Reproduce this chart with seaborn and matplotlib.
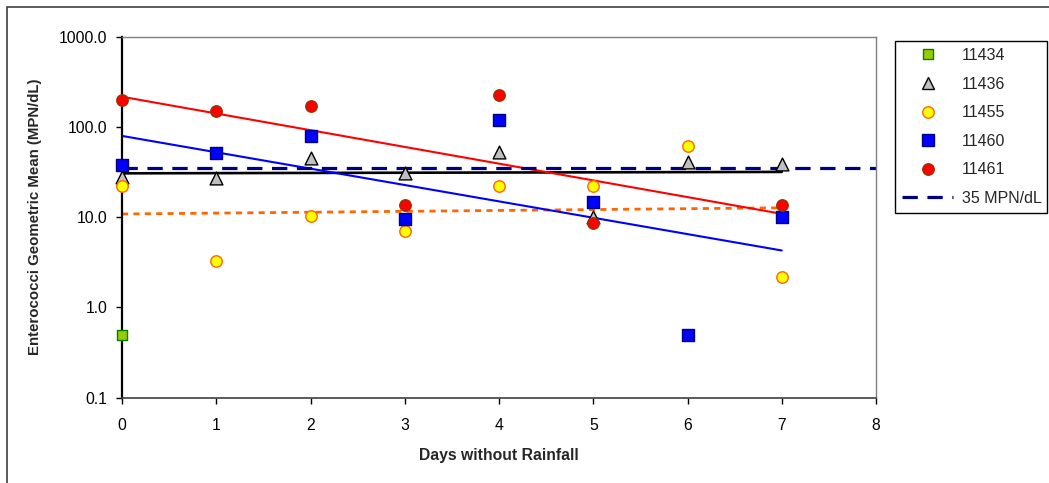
import numpy as np
import pandas as pd
import matplotlib
matplotlib.use("Agg")
import matplotlib.pyplot as plt
from matplotlib.lines import Line2D
from matplotlib.patches import Rectangle
from matplotlib.ticker import FixedLocator, FixedFormatter
import seaborn as sns

sns.set_style("white")
plt.rcParams['font.family'] = ['Liberation Sans', 'DejaVu Sans']

# ---- data ----
days = [0, 1, 2, 3, 4, 5, 6, 7]
s11434_x = [0]
s11434_y = [0.5]
s11436_x = [0, 1, 2, 3, 4, 5, 6, 7]
s11436_y = [28, 27, 45, 31, 53, 10, 41, 39]
s11455_x = [0, 1, 2, 3, 4, 5, 6, 7]
s11455_y = [22.4, 3.26, 10.3, 7.1, 22.4, 22.4, 62, 2.18]
s11460_x = [0, 1, 2, 3, 4, 5, 6, 7]
s11460_y = [38, 52, 80, 9.5, 120, 14.9, 0.5, 10]
s11461_x = [0, 1, 2, 3, 4, 5, 7]
s11461_y = [198, 149, 171, 13.7, 228, 8.6, 13.6]
threshold = 35
threshold_label = "35 MPN/dL"
y_ticks = [0.1, 1, 10, 100, 1000]
y_tick_labels = ["0.1", "1.0", "10.0", "100.0", "1000.0"]
x_ticks = [0, 1, 2, 3, 4, 5, 6, 7, 8]

series = [
    ("11434", s11434_x, s11434_y, dict(marker="s", color="#99CC00", ec="#008000", s=60)),
    ("11436", s11436_x, s11436_y, dict(marker="^", color="#C0C0C0", ec="#000000", s=85)),
    ("11455", s11455_x, s11455_y, dict(marker="o", color="#FFFF00", ec="#FF6600", s=68)),
    ("11460", s11460_x, s11460_y, dict(marker="s", color="#0000FF", ec="#000080", s=66)),
    ("11461", s11461_x, s11461_y, dict(marker="o", color="#FF0000", ec="#993300", s=68)),
]
trends = {
    "11436": dict(color="#000000", lw=1.9, ls="-"),
    "11455": dict(color="#FF6600", lw=2.0, ls=(0, (2.2, 1.9))),
    "11460": dict(color="#0000FF", lw=1.5, ls="-"),
    "11461": dict(color="#FF0000", lw=1.5, ls="-"),
}

W, H = 1049, 483
fig = plt.figure(figsize=(W / 100, H / 100), dpi=100)
ax = fig.add_axes([122 / W, 1 - 397.7 / H, (876 - 122) / W, (397.7 - 36.7) / H])

# trend lines (exponential fits, as in the spreadsheet)
for name, xs, ys, st in series:
    if name in trends:
        k, b = np.polyfit(np.array(xs, float), np.log10(ys), 1)
        xf = np.linspace(min(xs), max(xs), 50)
        df = pd.DataFrame({"x": xf, "y": 10 ** (k * xf + b)})
        t = trends[name]
        sns.lineplot(data=df, x="x", y="y", ax=ax, color=t["color"], lw=t["lw"],
                     linestyle=t["ls"], zorder=2, legend=False)

# threshold line
ax.axhline(threshold, color="#000080", lw=2.3, ls=(0, (4.8, 3.0)), zorder=2.5)

# markers
for name, xs, ys, st in series:
    df = pd.DataFrame({"x": xs, "y": ys})
    sns.scatterplot(data=df, x="x", y="y", ax=ax, marker=st["marker"], color=st["color"],
                    edgecolor=st["ec"], linewidth=1.0, s=st["s"], zorder=3, legend=False,
                    clip_on=False)

ax.set_yscale("log")
ax.set_ylim(0.1, 1000)
ax.set_xlim(0, 8)
ax.yaxis.set_major_locator(FixedLocator(y_ticks))
ax.yaxis.set_major_formatter(FixedFormatter(y_tick_labels))
ax.yaxis.set_minor_locator(FixedLocator([]))
ax.set_xticks(x_ticks)
ax.tick_params(axis="both", direction="out", length=4.5, width=1, labelsize=11.3,
               colors="#000000", pad=6, bottom=True, left=True)
ax.tick_params(axis="x", pad=10)
for sp in ["top", "right"]:
    ax.spines[sp].set_color("#808080")
    ax.spines[sp].set_linewidth(1.0)
ax.spines["left"].set_color("#000000")
ax.spines["left"].set_linewidth(1.6)
ax.spines["bottom"].set_color("#404040")
ax.spines["bottom"].set_linewidth(1.2)
ax.grid(False)

ax.set_xlabel("Days without Rainfall", fontsize=11.3, fontweight="bold", labelpad=11)
ax.set_ylabel("Enterococci Geometric Mean (MPN/dL)", fontsize=10.8, fontweight="bold", labelpad=12)

# legend
handles = []
for name, xs, ys, st in series:
    handles.append(Line2D([], [], ls="none", marker=st["marker"], markerfacecolor=st["color"],
                          markeredgecolor=st["ec"], markersize=np.sqrt(st["s"]) * 1.0,
                          markeredgewidth=1.0, label=name))
handles.append(Line2D([], [], color="#000080", lw=2.3, ls=(0, (4.8, 3.0)), label=threshold_label))
leg = fig.legend(handles=handles, loc="upper left",
                 bbox_to_anchor=(895 / W, 1 - 45.7 / H, (1047 - 895) / W, 0.01),
                 mode="expand", fontsize=11.5, frameon=True, fancybox=False,
                 edgecolor="#000000", framealpha=1, borderaxespad=0, borderpad=0.45,
                 labelspacing=0.85, handlelength=3.2, handletextpad=0.55)
leg.get_frame().set_linewidth(1.0)

# outer chart border
fig.patches.append(Rectangle((6.5 / W, -0.05), 1.1, 1 - 7 / H + 0.05, transform=fig.transFigure,
                             fill=False, edgecolor="#404040", lw=1.2, zorder=0))

fig.savefig("out.png", dpi=100)
